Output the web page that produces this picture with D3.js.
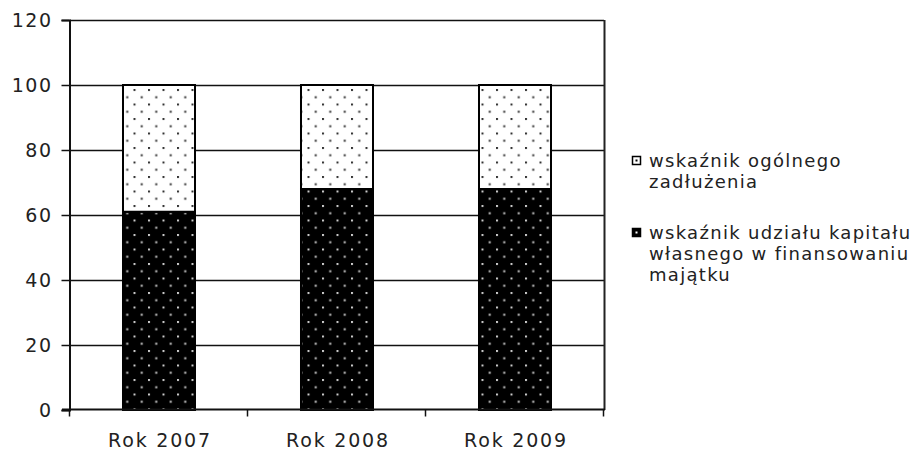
<!DOCTYPE html>
<html>
<head>
<meta charset="utf-8">
<script src="https://cdn.jsdelivr.net/npm/d3@7/dist/d3.min.js"></script>
<style>
  html, body { margin: 0; padding: 0; background: #fff; }
  svg { display: block; font-family: "DejaVu Sans", Verdana, sans-serif; }
</style>
</head>
<body>
<svg id="chart" width="914" height="450"></svg>
<script>
// Years on the category axis
const categories = ["Rok 2007", "Rok 2008", "Rok 2009"];
// Equity financing share of assets (%) – bottom segment
const equityShare = [61, 68, 68];
// Overall debt ratio (%) – top segment
const debtRatio = [39, 32, 32];
// Value-axis ticks
const yTicks = [0, 20, 40, 60, 80, 100, 120];
// Legend entries (multi-line labels)
const seriesNames = [
  ["wskaźnik ogólnego", "zadłużenia"],
  ["wskaźnik udziału kapitału", "własnego w finansowaniu", "majątku"]
];

const svg = d3.select("#chart");
const plot = { left: 70, right: 604, top: 20, bottom: 410 };

const x = d3.scaleBand()
  .domain(categories)
  .range([plot.left, plot.right])
  .paddingInner(0.5955)
  .paddingOuter(0.29775);

const y = d3.scaleLinear()
  .domain([0, 120])
  .range([plot.bottom, plot.top]);

// Dot fill patterns
const defs = svg.append("defs");
function dotPattern(id, bg, dot) {
  const s = 14.5;
  const p = defs.append("pattern")
    .attr("id", id)
    .attr("patternUnits", "userSpaceOnUse")
    .attr("width", s).attr("height", s)
    .attr("x", 3).attr("y", 2);
  p.append("rect").attr("width", s).attr("height", s).attr("fill", bg);
  p.append("rect").attr("x", 0).attr("y", 0).attr("width", 2).attr("height", 2).attr("fill", dot).attr("opacity", 0.8);
  p.append("rect").attr("x", s / 2).attr("y", s / 2).attr("width", 2).attr("height", 2).attr("fill", dot).attr("opacity", 0.8);
}
dotPattern("dotsLight", "#fff", "#000");
dotPattern("dotsDark", "#000", "#fff");

// Horizontal gridlines
svg.append("g")
  .selectAll("line")
  .data(yTicks.filter(d => d > 0))
  .join("line")
  .attr("x1", plot.left).attr("x2", plot.right)
  .attr("y1", d => Math.round(y(d)) + 0.5)
  .attr("y2", d => Math.round(y(d)) + 0.5)
  .attr("stroke", "#111")
  .attr("stroke-width", 1.5);

// Plot border (right side; top is the 120 gridline)
svg.append("line")
  .attr("x1", plot.right + 0.5).attr("x2", plot.right + 0.5)
  .attr("y1", plot.top).attr("y2", plot.bottom)
  .attr("stroke", "#222").attr("stroke-width", 2);

// Stacked bars
const stackData = categories.map((c, i) => ({ cat: c, equity: equityShare[i], debt: debtRatio[i] }));
const stack = d3.stack().keys(["equity", "debt"])(stackData);
const fills = { equity: "url(#dotsDark)", debt: "url(#dotsLight)" };

svg.append("g")
  .selectAll("g")
  .data(stack)
  .join("g")
  .attr("fill", d => fills[d.key])
  .selectAll("rect")
  .data(d => d)
  .join("rect")
  .attr("x", d => x(d.data.cat))
  .attr("width", x.bandwidth())
  .attr("y", d => y(d[1]))
  .attr("height", d => y(d[0]) - y(d[1]))
  .attr("stroke", "#000")
  .attr("stroke-width", 2);

// Y axis
const yAxis = svg.append("g")
  .attr("transform", `translate(${plot.left - 0.5},0)`)
  .call(d3.axisLeft(y).tickValues(yTicks).tickSize(8).tickPadding(9));
yAxis.select(".domain").attr("stroke", "#111").attr("stroke-width", 2);
yAxis.selectAll(".tick line").attr("stroke", "#111").attr("stroke-width", 1.5);
yAxis.selectAll("text").attr("font-size", 19).attr("fill", "#222")
  .attr("letter-spacing", 1.5)
  .attr("font-family", "DejaVu Sans, Verdana, sans-serif");

// X axis with ticks at category boundaries
const xAxisG = svg.append("g")
  .attr("transform", `translate(0,${plot.bottom - 0.5})`);
xAxisG.append("line")
  .attr("x1", plot.left - 8).attr("x2", plot.right + 1)
  .attr("stroke", "#111").attr("stroke-width", 2);
const boundaries = [plot.left, ...categories.slice(1).map(c => x(c) - x.step() * x.paddingInner() / 2), plot.right];
xAxisG.selectAll(".bt")
  .data(boundaries)
  .join("line")
  .attr("class", "bt")
  .attr("x1", d => Math.round(d) - 0.5).attr("x2", d => Math.round(d) - 0.5)
  .attr("y1", 0).attr("y2", 7)
  .attr("stroke", "#111").attr("stroke-width", 1.5);
xAxisG.selectAll(".lbl")
  .data(categories)
  .join("text")
  .attr("class", "lbl")
  .attr("x", d => x(d) + x.bandwidth() / 2 + 1)
  .attr("y", 37)
  .attr("text-anchor", "middle")
  .attr("font-size", 19)
  .attr("letter-spacing", 1.8)
  .attr("fill", "#222")
  .text(d => d);

// Legend
const legend = svg.append("g");
const legendItems = [
  { lines: seriesNames[0], fill: "#fff", y: 160 },
  { lines: seriesNames[1], fill: "#000", y: 232 }
];
legendItems.forEach(item => {
  const g = legend.append("g");
  g.append("rect")
    .attr("x", 632.5).attr("y", item.y - 3.5)
    .attr("width", 8).attr("height", 8)
    .attr("fill", item.fill)
    .attr("stroke", "#000").attr("stroke-width", 1.5);
  g.append("rect")
    .attr("x", 635.5).attr("y", item.y - 0.5)
    .attr("width", 2).attr("height", 2)
    .attr("fill", item.fill === "#000" ? "#fff" : "#000");
  g.append("text")
    .attr("x", 649)
    .attr("y", item.y + 7)
    .attr("font-size", 18)
    .attr("letter-spacing", 1.3)
    .attr("fill", "#222")
    .selectAll("tspan")
    .data(item.lines)
    .join("tspan")
    .attr("x", 649)
    .attr("dy", (d, i) => i === 0 ? 0 : 21)
    .text(d => d);
});
</script>
</body>
</html>
